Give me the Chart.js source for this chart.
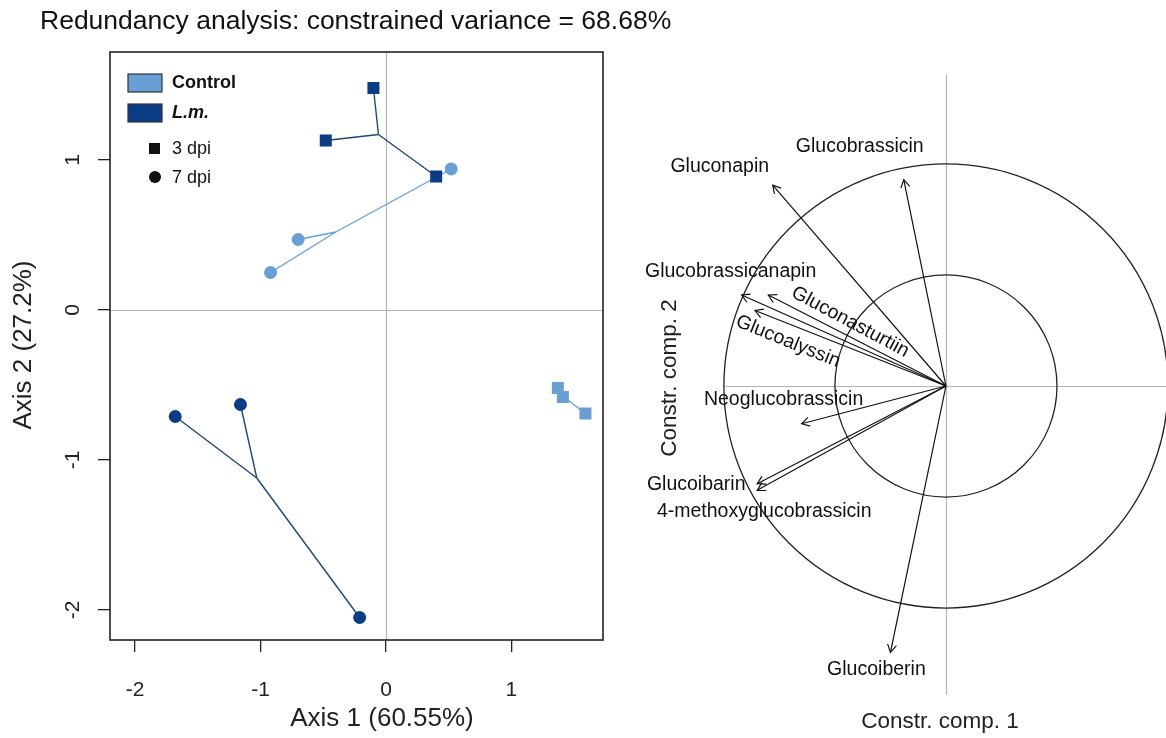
<!DOCTYPE html>
<html>
<head>
<meta charset="utf-8">
<script src="https://cdn.jsdelivr.net/npm/chart.js@4.4.1/dist/chart.umd.min.js"></script>
<style>
  html, body { margin: 0; padding: 0; background: #fff; }
  #wrap { position: relative; width: 1166px; height: 738px; overflow: hidden; }
  canvas { position: absolute; top: 0; }
  #rda { left: 0; }
  #corr { left: 615px; }
</style>
</head>
<body>
<div id="wrap">
  <canvas id="rda" width="700" height="738"></canvas>
  <canvas id="corr" width="551" height="738"></canvas>
</div>
<script>
// ---- left panel: RDA site scores ----
const ctrl3dpiX = [1.37, 1.41, 1.59];
const ctrl3dpiY = [-0.52, -0.58, -0.69];
const ctrl7dpiX = [0.52, -0.70, -0.92];
const ctrl7dpiY = [0.94, 0.47, 0.25];
const lm3dpiX = [-0.10, -0.48, 0.40];
const lm3dpiY = [1.48, 1.13, 0.89];
const lm7dpiX = [-1.68, -1.16, -0.21];
const lm7dpiY = [-0.71, -0.63, -2.05];
// spider centres, order: ctrl 3dpi, ctrl 7dpi, L.m. 3dpi, L.m. 7dpi
const centreX = [1.45, -0.40, -0.06, -1.03];
const centreY = [-0.60, 0.52, 1.17, -1.12];
const axis1Ticks = [-2, -1, 0, 1];
const axis2Ticks = [-2, -1, 0, 1];

// ---- right panel: correlation arrows ----
const compounds = ['Gluconapin', 'Glucobrassicin', 'Glucobrassicanapin', 'Gluconasturtiin', 'Glucoalyssin',
  'Neoglucobrassicin', 'Glucoibarin', '4-methoxyglucobrassicin', 'Glucoiberin'];
const comp1 = [-0.78, -0.19, -0.92, -0.80, -0.86, -0.65, -0.85, -0.85, -0.25];
const comp2 = [0.905, 0.93, 0.41, 0.41, 0.34, -0.17, -0.44, -0.47, -1.20];
const circleRadii = [1, 0.5];

const FONT = '"Liberation Sans", Arial, Helvetica, sans-serif';
const lightBlue = '#6a9fd5';
const darkBlue = '#0a3d85';
const lmLine = '#1d4873';

// label placement (px offset from arrow tip, rotation in deg)
const labelOffset = [[-53, -18, 0], [-44, -33, 0], [-11, -23, 0], [82, 27, 28], [33, 31, 22],
  [-18, -24, 0], [-61, 1, 0], [7, 21, 0], [-14, 17, 0]];

function pts(xs, ys) {
  return xs.map((x, i) => ({ x: x, y: ys[i] }));
}

function spokes(xs, ys, g, color) {
  return xs.map((x, i) => ({
    type: 'scatter',
    data: [{ x: x, y: ys[i] }, { x: centreX[g], y: centreY[g] }],
    showLine: true,
    borderColor: color,
    borderWidth: 1.4,
    pointRadius: 0,
    order: 2
  }));
}

function marks(xs, ys, color, style, r) {
  return {
    type: 'scatter',
    data: pts(xs, ys),
    pointStyle: style,
    pointRadius: r,
    pointBackgroundColor: color,
    pointBorderColor: color,
    pointBorderWidth: 0,
    order: 1
  };
}

function text(ctx, str, x, y, size, opts) {
  opts = opts || {};
  ctx.save();
  ctx.translate(x, y);
  if (opts.rot) ctx.rotate(opts.rot * Math.PI / 180);
  ctx.font = (opts.style || '') + ' ' + size + 'px ' + FONT;
  ctx.fillStyle = opts.color || '#111';
  ctx.textAlign = opts.align || 'center';
  ctx.textBaseline = 'middle';
  ctx.fillText(str, 0, 0);
  ctx.restore();
}

const rdaDecor = {
  id: 'rdaDecor',
  beforeDatasetsDraw(chart) {
    const ctx = chart.ctx, a = chart.chartArea;
    const xs = chart.scales.x, ys = chart.scales.y;
    ctx.save();
    ctx.strokeStyle = '#b4b4b4';
    ctx.lineWidth = 1.2;
    ctx.beginPath();
    const x0 = Math.round(xs.getPixelForValue(0)) + 0.5;
    const y0 = Math.round(ys.getPixelForValue(0)) + 0.5;
    ctx.moveTo(x0, a.top); ctx.lineTo(x0, a.bottom);
    ctx.moveTo(a.left, y0); ctx.lineTo(a.right, y0);
    ctx.stroke();
    ctx.restore();
  },
  afterDraw(chart) {
    const ctx = chart.ctx, a = chart.chartArea;
    const ys = chart.scales.y;
    ctx.save();
    ctx.strokeStyle = '#222';
    ctx.lineWidth = 1.6;
    ctx.strokeRect(a.left, a.top, a.right - a.left, a.bottom - a.top);
    ctx.restore();

    ys.ticks.forEach(t => {
      text(ctx, String(t.value), 73, ys.getPixelForValue(t.value), 21, { rot: -90, color: '#222' });
    });

    text(ctx, 'Redundancy analysis: constrained variance = 68.68%', 40, 22, 26.5, { align: 'left' });
    text(ctx, 'Axis 1 (60.55%)', 382, 719, 26, { color: '#222' });
    text(ctx, 'Axis 2 (27.2%)', 24, 345, 26, { rot: -90, color: '#222' });

    // legend
    ctx.save();
    ctx.lineWidth = 1.2;
    ctx.strokeStyle = '#333';
    ctx.fillStyle = lightBlue;
    ctx.fillRect(128, 74, 34, 18); ctx.strokeRect(128, 74, 34, 18);
    ctx.fillStyle = darkBlue;
    ctx.fillRect(128, 104, 34, 18); ctx.strokeRect(128, 104, 34, 18);
    ctx.fillStyle = '#111';
    ctx.fillRect(149, 143, 11, 11);
    ctx.beginPath(); ctx.arc(155, 177, 6, 0, Math.PI * 2); ctx.fill();
    ctx.restore();
    text(ctx, 'Control', 172, 83, 18, { align: 'left', style: 'bold' });
    text(ctx, 'L.m.', 172, 113, 18, { align: 'left', style: 'italic bold' });
    text(ctx, '3 dpi', 172, 149, 18, { align: 'left' });
    text(ctx, '7 dpi', 172, 178, 18, { align: 'left' });
  }
};

new Chart(document.getElementById('rda'), {
  type: 'scatter',
  data: {
    datasets: [].concat(
      spokes(ctrl3dpiX, ctrl3dpiY, 0, lightBlue),
      spokes(ctrl7dpiX, ctrl7dpiY, 1, lightBlue),
      spokes(lm3dpiX, lm3dpiY, 2, lmLine),
      spokes(lm7dpiX, lm7dpiY, 3, lmLine),
      [
        marks(ctrl3dpiX, ctrl3dpiY, lightBlue, 'rect', 8.5),
        marks(ctrl7dpiX, ctrl7dpiY, lightBlue, 'circle', 6.5),
        marks(lm3dpiX, lm3dpiY, darkBlue, 'rect', 8.5),
        marks(lm7dpiX, lm7dpiY, darkBlue, 'circle', 6.5)
      ]
    )
  },
  options: {
    responsive: false,
    animation: false,
    events: [],
    layout: { padding: { top: 52, right: 97, left: 0, bottom: 0 } },
    plugins: { legend: { display: false }, tooltip: { enabled: false } },
    scales: {
      x: {
        min: -2.2, max: 1.73,
        afterBuildTicks: s => { s.ticks = axis1Ticks.map(v => ({ value: v })); },
        afterFit: s => { s.height = 98; },
        border: { display: false },
        grid: { drawOnChartArea: false, tickLength: 12, color: '#222', lineWidth: 1.3 },
        ticks: { padding: 26, color: '#222', font: { family: FONT, size: 21 } }
      },
      y: {
        min: -2.2, max: 1.72,
        afterBuildTicks: s => { s.ticks = axis2Ticks.map(v => ({ value: v })); },
        afterFit: s => { s.width = 110; },
        border: { display: false },
        grid: { drawOnChartArea: false, tickLength: 12, color: '#222', lineWidth: 1.3 },
        ticks: { display: false }
      }
    }
  },
  plugins: [rdaDecor]
});

// ---- right panel ----
const corrDecor = {
  id: 'corrDecor',
  beforeDatasetsDraw(chart) {
    const ctx = chart.ctx, a = chart.chartArea;
    const xs = chart.scales.x, ys = chart.scales.y;
    const cx = xs.getPixelForValue(0), cy = ys.getPixelForValue(0);
    ctx.save();
    ctx.strokeStyle = '#b4b4b4';
    ctx.lineWidth = 1.2;
    ctx.beginPath();
    ctx.moveTo(Math.round(cx) + 0.5, a.top); ctx.lineTo(Math.round(cx) + 0.5, a.bottom);
    ctx.moveTo(a.left, Math.round(cy) + 0.5); ctx.lineTo(a.right, Math.round(cy) + 0.5);
    ctx.stroke();
    ctx.strokeStyle = '#222';
    ctx.lineWidth = 1.3;
    circleRadii.forEach(r => {
      const rp = xs.getPixelForValue(r) - cx;
      ctx.beginPath();
      ctx.arc(cx, cy, rp, 0, Math.PI * 2);
      ctx.stroke();
    });
    ctx.restore();
  },
  afterDatasetsDraw(chart) {
    const ctx = chart.ctx;
    ctx.save();
    ctx.strokeStyle = '#111';
    ctx.lineWidth = 1.2;
    chart.data.datasets.forEach((ds, i) => {
      const m = chart.getDatasetMeta(i).data;
      const p0 = m[0], p1 = m[1];
      const ang = Math.atan2(p1.y - p0.y, p1.x - p0.x);
      const L = 9, w = Math.PI / 6;
      ctx.beginPath();
      ctx.moveTo(p1.x - L * Math.cos(ang - w), p1.y - L * Math.sin(ang - w));
      ctx.lineTo(p1.x, p1.y);
      ctx.lineTo(p1.x - L * Math.cos(ang + w), p1.y - L * Math.sin(ang + w));
      ctx.stroke();
      const o = labelOffset[i];
      text(ctx, compounds[i], p1.x + o[0], p1.y + o[1], 19.5, { rot: o[2] });
    });
    ctx.restore();
    text(ctx, 'Constr. comp. 1', 325, 722, 22.5, { color: '#222' });
    text(ctx, 'Constr. comp. 2', 55, 378, 22.5, { rot: -90, color: '#222' });
  }
};

new Chart(document.getElementById('corr'), {
  type: 'scatter',
  data: {
    datasets: compounds.map((c, i) => ({
      label: c,
      data: [{ x: 0, y: 0 }, { x: comp1[i], y: comp2[i] }],
      showLine: true,
      borderColor: '#111',
      borderWidth: 1.2,
      pointRadius: 0
    }))
  },
  options: {
    responsive: false,
    animation: false,
    events: [],
    layout: { padding: { top: 75, right: 0, left: 110, bottom: 43 } },
    plugins: { legend: { display: false }, tooltip: { enabled: false } },
    scales: {
      x: { display: false, min: -0.995, max: 0.991 },
      y: { display: false, min: -1.392, max: 1.401 }
    }
  },
  plugins: [corrDecor]
});
</script>
</body>
</html>
